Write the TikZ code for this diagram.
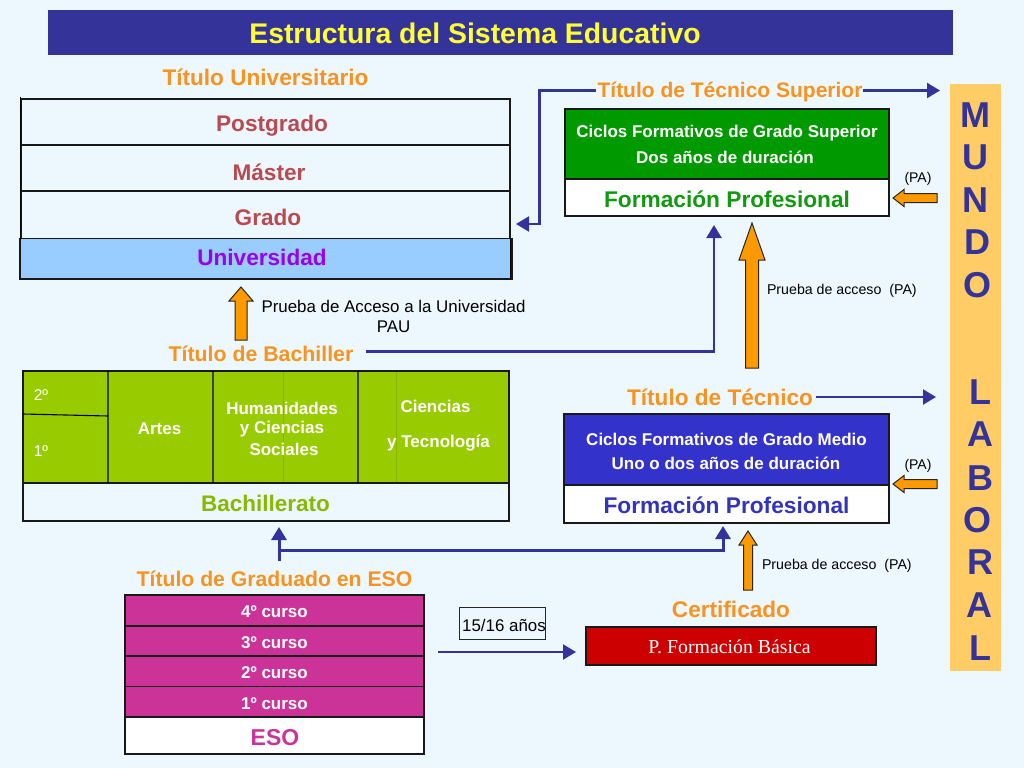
\documentclass[tikz,border=0pt]{standalone}
\usepackage{fontspec}
\setmainfont{Liberation Sans}
\newfontfamily\serifp{Liberation Serif}
\usetikzlibrary{arrows.meta}
\definecolor{bgc}{HTML}{EDF7FE}
\definecolor{navy}{HTML}{333399}
\definecolor{orangetxt}{HTML}{F7931E}
\definecolor{blockor}{HTML}{FF9900}
\definecolor{rosered}{HTML}{B94A4F}
\definecolor{lime}{HTML}{99CC00}
\definecolor{magen}{HTML}{CC3399}
\definecolor{mundo}{HTML}{FFCC66}
\newcommand\bx[6][]{\node[boxst,#1,minimum width={(#4-#2)*1pt},minimum height={(#5-#3)*1pt}] (#6) at ({(#2+#4)/2},{(#3+#5)/2}) {};}
\newcommand\fs[1]{\fontsize{#1}{#1}\selectfont}
\newcommand\blockup[5]{\blockupi{#1}{#2}{#3}{#4}#5}
\newcommand\blockupi[6]{\draw[blockst] ({#1-#6/2},#3) -- ({#1-#6/2},#4) -- ({#1-#5/2},#4) -- (#1,#2) -- ({#1+#5/2},#4) -- ({#1+#6/2},#4) -- ({#1+#6/2},#3) -- cycle;}
\newcommand\blockleft[1]{\draw[blockst] (937,{#1-4.5}) -- (904,{#1-4.5}) -- (904,{#1-8.5}) -- (893,#1) -- (904,{#1+8.5}) -- (904,{#1+4.5}) -- (937,{#1+4.5}) -- cycle;}
\tikzset{
  boxst/.style={draw=black!90,line width=1.1pt,inner sep=0pt,outer sep=0pt},
  blockst/.style={draw=black!85,line width=1pt,fill=blockor,line join=miter},
  conn/.style={draw=navy,line width=2.2pt,-{Triangle[length=13pt,width=15pt]}},
  connthick/.style={conn,line width=3pt},
  txt/.style={inner sep=0pt,outer sep=2pt,align=center,font=\bfseries},
  titlet/.style={txt,text=orangetxt,font=\bfseries\fs{22.6}},
  uni/.style={txt,text=rosered,font=\bfseries\fs{22.6}},
  cic/.style={txt,text=white,font=\bfseries\fs{17}},
  fp/.style={txt,font=\bfseries\fs{22.7}},
  wh/.style={txt,text=white,font=\bfseries\fs{17}},
  plain/.style={inner sep=0pt,outer sep=0pt,align=center,text=black,font=\fs{16.9}},
  small/.style={inner sep=0pt,outer sep=0pt,text=black,font=\fs{14.2}},
  letterst/.style={inner sep=0pt,outer sep=0pt,text=navy,font=\bfseries\fs{36}}
}
\begin{document}
\begin{tikzpicture}[x=1pt,y=-1pt]
\useasboundingbox (0,0) rectangle (1024,768);
\fill[bgc] (0,0) rectangle (1024,768);
% title
\node[draw=none,fill=navy,minimum width=905pt,minimum height=45pt,inner sep=0pt] (titlebar) at (500.5,32.5) {};
\node[txt,text={rgb,255:red,255;green,255;blue,51},font=\bfseries\fs{28.4}] (titletext) at (475,33.5) {Estructura del Sistema Educativo};
% universidad
\node[titlet] (tuni) at (265.5,77.5) {Título Universitario};
\bx{21}{99}{510}{145}{rowpost}
\bx{21}{145}{510}{191}{rowmaster}
\bx{21}{191}{510}{238.5}{rowgrado}
\bx[fill={rgb,255:red,153;green,204;blue,255}]{20}{238.5}{512}{279}{rowuni}
\draw[black,line width=1pt] (20,97) -- (20,240);
\draw[black,line width=1pt] (510,238.5) -- (510,279);
\node[uni] (lpost) at (272,125.5) {Postgrado};
\node[uni] (lmaster) at (269,172) {Máster};
\node[uni] (lgrado) at (268,217.5) {Grado};
\node[uni,text={rgb,255:red,153;green,0;blue,238}] (luni) at (262,257.5) {Universidad};
% PAU
\blockup{241}{287}{340}{301}{{24}{12}}
\node[plain] (lpau) at (393.5,316.5) {Prueba de Acceso a la Universidad\\[4pt]PAU};
% bachiller
\node[titlet,font=\bfseries\fs{21.3}] (tbach) at (261,354) {Título de Bachiller};
\bx{23}{371}{509}{521}{bachout}
\bx[fill=lime]{23}{371}{509}{483}{bachtop}
\draw[black,line width=1.1pt] (108,371) -- (108,483) (213,371) -- (213,483) (358,371) -- (358,483) (23,414) -- (108,416);
\draw[black!12!lime,line width=.5pt] (283,372) -- (283,482) (396,372) -- (396,482);
\node[inner sep=0pt,text=white,font=\fs{15.5}] (l2) at (41,395) {2º};
\node[inner sep=0pt,text=white,font=\fs{15.5}] (l1) at (41,451) {1º};
\node[wh] (lartes) at (159.5,428.5) {Artes};
\node[wh] (lhum1) at (282,408) {Humanidades};
\node[wh] (lhum2) at (282,429) {y Ciencias};
\node[wh] (lhum3) at (284,449) {Sociales};
\node[wh] (lcien1) at (435.5,406) {Ciencias};
\node[wh] (lcien2) at (438.5,443.5) {y Tecnología};
\node[txt,text=lime!90!black,font=\bfseries\fs{22.5}] (lbach) at (265.5,503.5) {Bachillerato};
% FP superior
\node[titlet,font=\bfseries\fs{21}] (tsup) at (730,91.5) {Título de Técnico Superior};
\bx[fill=white]{565}{109}{889}{216}{supout}
\bx[fill={rgb,255:red,0;green,153;blue,0}]{565}{109}{889}{179}{suptop}
\node[cic] (ls1) at (727,133.5) {Ciclos Formativos de Grado Superior};
\node[cic] (ls2) at (725,157.5) {Dos años de duración};
\node[fp,text={rgb,255:red,17;green,153;blue,17}] (ls3) at (727,199.5) {Formación Profesional};
\node[inner sep=0pt,text=black,font=\fs{14}] (lpa1) at (918,179) {(PA)};
\blockleft{198}
\blockup{752}{223}{368}{260}{{26}{13}}
\node[small,anchor=west] (lpr1) at (767,290.5) {Prueba de acceso\ \ (PA)};
% FP medio
\node[titlet] (tmed) at (720,397.5) {Título de Técnico};
\bx[fill=white]{564}{414}{889}{523}{medout}
\bx[fill={rgb,255:red,51;green,51;blue,204}]{564}{414}{889}{485}{medtop}
\node[cic] (lm1) at (726.5,439.5) {Ciclos Formativos de Grado Medio};
\node[cic] (lm2) at (726,463.5) {Uno o dos años de duración};
\node[fp,text={rgb,255:red,51;green,51;blue,187}] (lm3) at (726.5,505.5) {Formación Profesional};
\node[inner sep=0pt,text=black,font=\fs{14}] (lpa2) at (918,466) {(PA)};
\blockleft{484}
\blockup{748}{531}{590}{545}{{18}{9}}
\node[small,anchor=west] (lpr2) at (762,565.5) {Prueba de acceso\ \ (PA)};
% basica
\node[titlet] (tcert) at (731,609.5) {Certificado};
\bx[fill={rgb,255:red,204;green,0;blue,0}]{586}{627}{876}{665}{basica}
\node[inner sep=0pt,text=white,font=\serifp\fs{19.8}] (lbas) at (729.5,647) {P. Formación Básica};
% ESO
\node[titlet,font=\bfseries\fs{21.2}] (tgrad) at (274.5,579) {Título de Graduado en ESO};
\bx[fill=magen]{125}{595}{424}{626}{c4}
\bx[fill=magen]{125}{626}{424}{656}{c3}
\bx[fill=magen]{125}{656}{424}{686.5}{c2}
\bx[fill=magen]{125}{686.5}{424}{717}{c1}
\bx[fill=white]{125}{717}{424}{754}{esobox}
\node[wh] (lc4) at (274.5,612) {4º curso};
\node[wh] (lc3) at (274.5,642.5) {3º curso};
\node[wh] (lc2) at (274.5,673) {2º curso};
\node[wh] (lc1) at (274.5,703.5) {1º curso};
\node[txt,text=magen,font=\bfseries\fs{23}] (leso) at (275,738) {ESO};
\node[draw=black!85,line width=.7pt,inner sep=0pt,minimum width=86pt,minimum height=32pt] (edad) at (502.5,623) {};
\node[plain] (ledad) at (504,625.5) {15/16 años};
% mundo laboral
\node[fill=mundo,inner sep=0pt,minimum width=51pt,minimum height=587pt] (mundobar) at (975.5,377.5) {};
\node[letterst] (m1) at (975,115) {M};
\node[letterst] (m2) at (975,157) {U};
\node[letterst] (m3) at (975,200) {N};
\node[letterst] (m4) at (977,242) {D};
\node[letterst] (m5) at (977,285) {O};
\node[letterst] (m6) at (980,392) {L};
\node[letterst] (m7) at (980,434) {A};
\node[letterst] (m8) at (980,478) {B};
\node[letterst] (m9) at (977,520) {O};
\node[letterst] (m10) at (980,562) {R};
\node[letterst] (m11) at (979,605) {A};
\node[letterst] (m12) at (980,648) {L};
% connectors
\coordinate (supright) at (940,90.5);
\coordinate (supleft) at (863,90.5);
\coordinate (supl) at (596,90.5);
\coordinate (supcorner) at (539.5,90.5);
\coordinate (supdown) at (539.5,224);
\coordinate (suptip) at (516,224);
\draw[conn] (supleft) -- (supright);
\draw[conn] (supl) -- (supcorner) -- (supdown) -- (suptip);
\coordinate (bachstart) at (366,351.5);
\coordinate (bachcorner) at (714,351.5);
\coordinate (bachtip) at (714,225);
\draw[conn] (bachstart) -- (bachcorner) -- (bachtip);
\coordinate (medstart) at (816,397);
\coordinate (medtip) at (936,397);
\draw[conn] (medstart) -- (medtip);
\coordinate (esostart) at (279,561);
\coordinate (esotip) at (279,527);
\draw[connthick] (esostart) -- (esotip);
\coordinate (esol) at (279,550);
\coordinate (esocorner) at (723,550);
\coordinate (esomedtip) at (723,526);
\draw[connthick] (esol) -- (esocorner) -- (esomedtip);
\coordinate (fbstart) at (438,652);
\coordinate (fbtip) at (576,652);
\draw[conn] (fbstart) -- (fbtip);
\end{tikzpicture}
\end{document}
